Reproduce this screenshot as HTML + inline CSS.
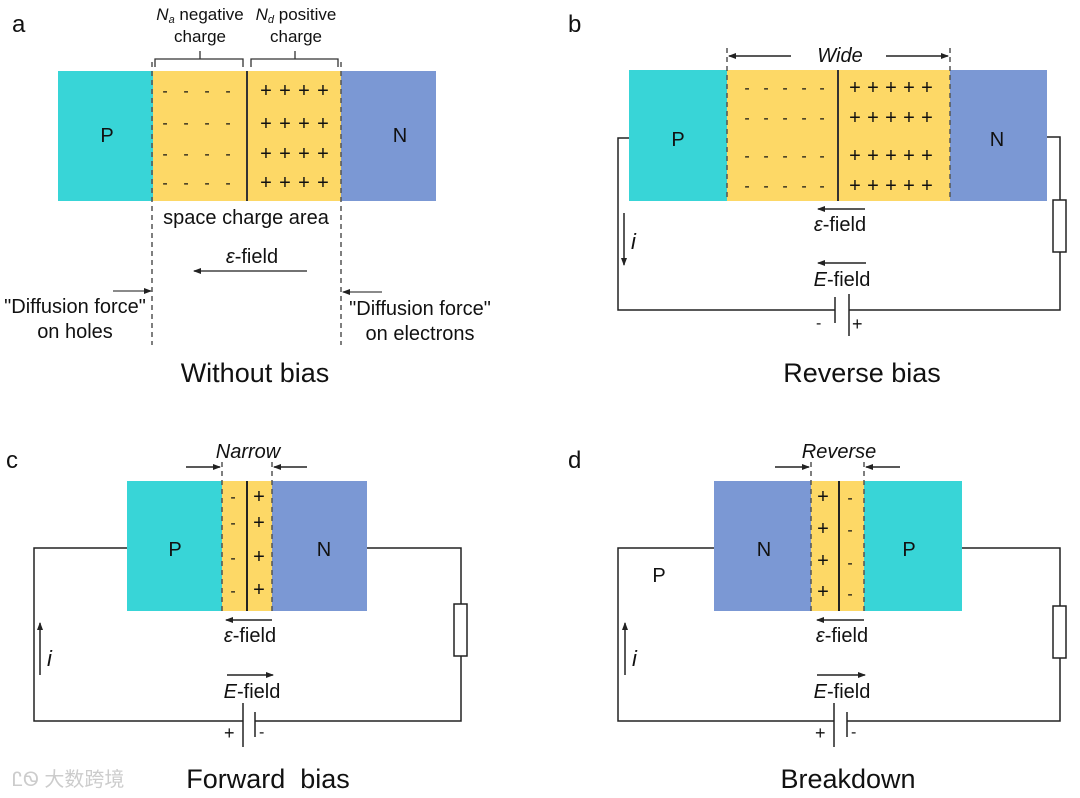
<!DOCTYPE html>
<html><head><meta charset="utf-8"><style>
html,body{margin:0;padding:0;background:#fff;}
svg{display:block;font-family:"Liberation Sans",Arial,sans-serif;}
</style></head><body>
<svg width="1080" height="798" viewBox="0 0 1080 798" xmlns="http://www.w3.org/2000/svg">
<defs>
<marker id="ah" markerWidth="8" markerHeight="8" refX="7" refY="4" orient="auto" markerUnits="userSpaceOnUse">
<path d="M0,1 L8,4 L0,7 Z" fill="#222"/></marker>
</defs>
<g fill="#111" font-size="20">
<!-- Panel a -->
<text x="12" y="32" font-size="24">a</text>
<rect x="58" y="71" width="95" height="130" fill="#38D5D7"/>
<rect x="153" y="71" width="188" height="130" fill="#FDD866"/>
<rect x="341" y="71" width="95" height="130" fill="#7B98D4"/>
<line x1="247" y1="71" x2="247" y2="201" stroke="#333" stroke-width="2"/>
<g stroke="#555" stroke-width="1.5" stroke-dasharray="5,4"><line x1="152" y1="62" x2="152" y2="345"/><line x1="341" y1="62" x2="341" y2="345"/></g>
<path d="M155,67 v-8 h45 v-8 M200,59 h43 v8" fill="none" stroke="#333" stroke-width="1.3"/>
<path d="M251,67 v-8 h44 v-8 M295,59 h43 v8" fill="none" stroke="#333" stroke-width="1.3"/>
<text x="200" y="20" text-anchor="middle" font-size="17"><tspan font-style="italic">N</tspan><tspan font-size="11" font-style="italic" dy="3">a</tspan><tspan dy="-3"> negative</tspan></text>
<text x="200" y="42" text-anchor="middle" font-size="17">charge</text>
<text x="296" y="20" text-anchor="middle" font-size="17"><tspan font-style="italic">N</tspan><tspan font-size="11" font-style="italic" dy="3">d</tspan><tspan dy="-3"> positive</tspan></text>
<text x="296" y="42" text-anchor="middle" font-size="17">charge</text>
<g font-size="16" text-anchor="middle">
<text x="165" y="96">-</text><text x="186" y="96">-</text><text x="207" y="96">-</text><text x="228" y="96">-</text>
<text x="165" y="128">-</text><text x="186" y="128">-</text><text x="207" y="128">-</text><text x="228" y="128">-</text>
<text x="165" y="159">-</text><text x="186" y="159">-</text><text x="207" y="159">-</text><text x="228" y="159">-</text>
<text x="165" y="188">-</text><text x="186" y="188">-</text><text x="207" y="188">-</text><text x="228" y="188">-</text>
</g>
<g font-size="20" text-anchor="middle">
<text x="266" y="97">+</text><text x="285" y="97">+</text><text x="304" y="97">+</text><text x="323" y="97">+</text>
<text x="266" y="130">+</text><text x="285" y="130">+</text><text x="304" y="130">+</text><text x="323" y="130">+</text>
<text x="266" y="160">+</text><text x="285" y="160">+</text><text x="304" y="160">+</text><text x="323" y="160">+</text>
<text x="266" y="189">+</text><text x="285" y="189">+</text><text x="304" y="189">+</text><text x="323" y="189">+</text>
</g>
<text x="107" y="142" text-anchor="middle">P</text>
<text x="400" y="142" text-anchor="middle">N</text>
<text x="246" y="224" text-anchor="middle">space charge area</text>
<text x="252" y="263" text-anchor="middle"><tspan font-style="italic">ε</tspan>-field</text>
<line x1="307" y1="271" x2="194" y2="271" stroke="#444" stroke-width="1.5" marker-end="url(#ah)"/>
<line x1="113" y1="291" x2="151" y2="291" stroke="#444" stroke-width="1.3" marker-end="url(#ah)"/>
<line x1="382" y1="292" x2="343" y2="292" stroke="#444" stroke-width="1.3" marker-end="url(#ah)"/>
<text x="75" y="313" text-anchor="middle">"Diffusion force"</text>
<text x="75" y="338" text-anchor="middle">on holes</text>
<text x="420" y="315" text-anchor="middle">"Diffusion force"</text>
<text x="420" y="340" text-anchor="middle">on electrons</text>
<text x="255" y="382" text-anchor="middle" font-size="27">Without bias</text>

<!-- Panel b -->
<text x="568" y="32" font-size="24">b</text>
<rect x="629" y="70" width="98" height="131" fill="#38D5D7"/>
<rect x="727" y="70" width="223" height="131" fill="#FDD866"/>
<rect x="950" y="70" width="97" height="131" fill="#7B98D4"/>
<line x1="838" y1="70" x2="838" y2="201" stroke="#333" stroke-width="2"/>
<g stroke="#555" stroke-width="1.5" stroke-dasharray="5,4"><line x1="727" y1="48" x2="727" y2="201"/><line x1="950" y1="48" x2="950" y2="201"/></g>
<line x1="791" y1="56" x2="729" y2="56" stroke="#222" stroke-width="1.6" marker-end="url(#ah)"/>
<line x1="886" y1="56" x2="948" y2="56" stroke="#222" stroke-width="1.6" marker-end="url(#ah)"/>
<text x="840" y="62" text-anchor="middle" font-style="italic">Wide</text>
<g font-size="16" text-anchor="middle">
<text x="747" y="93">-</text><text x="766" y="93">-</text><text x="785" y="93">-</text><text x="804" y="93">-</text><text x="822" y="93">-</text>
<text x="747" y="123">-</text><text x="766" y="123">-</text><text x="785" y="123">-</text><text x="804" y="123">-</text><text x="822" y="123">-</text>
<text x="747" y="161">-</text><text x="766" y="161">-</text><text x="785" y="161">-</text><text x="804" y="161">-</text><text x="822" y="161">-</text>
<text x="747" y="191">-</text><text x="766" y="191">-</text><text x="785" y="191">-</text><text x="804" y="191">-</text><text x="822" y="191">-</text>
</g>
<g font-size="20" text-anchor="middle">
<text x="855" y="94">+</text><text x="873" y="94">+</text><text x="891" y="94">+</text><text x="909" y="94">+</text><text x="927" y="94">+</text>
<text x="855" y="124">+</text><text x="873" y="124">+</text><text x="891" y="124">+</text><text x="909" y="124">+</text><text x="927" y="124">+</text>
<text x="855" y="162">+</text><text x="873" y="162">+</text><text x="891" y="162">+</text><text x="909" y="162">+</text><text x="927" y="162">+</text>
<text x="855" y="192">+</text><text x="873" y="192">+</text><text x="891" y="192">+</text><text x="909" y="192">+</text><text x="927" y="192">+</text>
</g>
<text x="678" y="146" text-anchor="middle">P</text>
<text x="997" y="146" text-anchor="middle">N</text>
<g fill="none" stroke="#222" stroke-width="1.5">
<path d="M629,138 H618 V310 H835"/>
<path d="M849,310 H1060 V252 M1060,200 V137 H1047"/>
<rect x="1053" y="200" width="13" height="52" fill="#fff"/>
<line x1="835" y1="297" x2="835" y2="323"/>
<line x1="849" y1="294" x2="849" y2="336"/>
</g>
<line x1="865" y1="209" x2="818" y2="209" stroke="#222" stroke-width="1.5" marker-end="url(#ah)"/>
<text x="840" y="231" text-anchor="middle"><tspan font-style="italic">ε</tspan>-field</text>
<line x1="866" y1="263" x2="818" y2="263" stroke="#222" stroke-width="1.5" marker-end="url(#ah)"/>
<text x="842" y="286" text-anchor="middle"><tspan font-style="italic">E</tspan>-field</text>
<line x1="624" y1="213" x2="624" y2="265" stroke="#222" stroke-width="1.5" marker-end="url(#ah)"/>
<text x="631" y="249" font-style="italic" font-size="22">i</text>
<text x="816" y="328" font-size="16">-</text>
<text x="852" y="330" font-size="18">+</text>
<text x="862" y="382" text-anchor="middle" font-size="27">Reverse bias</text>

<!-- Panel c -->
<text x="6" y="468" font-size="24">c</text>
<rect x="127" y="481" width="95" height="130" fill="#38D5D7"/>
<rect x="222" y="481" width="50" height="130" fill="#FDD866"/>
<rect x="272" y="481" width="95" height="130" fill="#7B98D4"/>
<line x1="247" y1="481" x2="247" y2="611" stroke="#222" stroke-width="2"/>
<g stroke="#555" stroke-width="1.5" stroke-dasharray="5,4"><line x1="222" y1="462" x2="222" y2="611"/><line x1="272" y1="462" x2="272" y2="611"/></g>
<line x1="186" y1="467" x2="220" y2="467" stroke="#222" stroke-width="1.6" marker-end="url(#ah)"/>
<line x1="307" y1="467" x2="274" y2="467" stroke="#222" stroke-width="1.6" marker-end="url(#ah)"/>
<text x="248" y="458" text-anchor="middle" font-style="italic">Narrow</text>
<g font-size="16" text-anchor="middle">
<text x="233" y="502">-</text><text x="233" y="528">-</text><text x="233" y="563">-</text><text x="233" y="596">-</text>
</g>
<g font-size="20" text-anchor="middle">
<text x="259" y="503">+</text><text x="259" y="529">+</text><text x="259" y="563">+</text><text x="259" y="596">+</text>
</g>
<text x="175" y="556" text-anchor="middle">P</text>
<text x="324" y="556" text-anchor="middle">N</text>
<g fill="none" stroke="#222" stroke-width="1.5">
<path d="M127,548 H34 V721 H243"/>
<path d="M255,721 H461 V656 M461,604 V548 H367"/>
<rect x="454" y="604" width="13" height="52" fill="#fff"/>
<line x1="243" y1="703" x2="243" y2="747"/>
<line x1="255" y1="712" x2="255" y2="737"/>
</g>
<line x1="272" y1="620" x2="226" y2="620" stroke="#222" stroke-width="1.5" marker-end="url(#ah)"/>
<text x="250" y="642" text-anchor="middle"><tspan font-style="italic">ε</tspan>-field</text>
<line x1="227" y1="675" x2="273" y2="675" stroke="#222" stroke-width="1.5" marker-end="url(#ah)"/>
<text x="252" y="698" text-anchor="middle"><tspan font-style="italic">E</tspan>-field</text>
<line x1="40" y1="675" x2="40" y2="623" stroke="#222" stroke-width="1.5" marker-end="url(#ah)"/>
<text x="47" y="666" font-style="italic" font-size="22">i</text>
<text x="224" y="739" font-size="18">+</text>
<text x="259" y="737" font-size="16">-</text>
<text x="268" y="788" text-anchor="middle" font-size="27">Forward&#160; bias</text>
<text x="12" y="786" font-size="20" fill="#ccc" font-family="'Liberation Sans','Noto Sans CJK SC',sans-serif">ᏝᏫ 大数跨境</text>

<!-- Panel d -->
<text x="568" y="468" font-size="24">d</text>
<rect x="714" y="481" width="97" height="130" fill="#7B98D4"/>
<rect x="811" y="481" width="53" height="130" fill="#FDD866"/>
<rect x="864" y="481" width="98" height="130" fill="#38D5D7"/>
<line x1="839" y1="481" x2="839" y2="611" stroke="#222" stroke-width="2"/>
<g stroke="#555" stroke-width="1.5" stroke-dasharray="5,4"><line x1="811" y1="462" x2="811" y2="611"/><line x1="864" y1="462" x2="864" y2="611"/></g>
<line x1="775" y1="467" x2="809" y2="467" stroke="#222" stroke-width="1.6" marker-end="url(#ah)"/>
<line x1="900" y1="467" x2="866" y2="467" stroke="#222" stroke-width="1.6" marker-end="url(#ah)"/>
<text x="839" y="458" text-anchor="middle" font-style="italic">Reverse</text>
<g font-size="20" text-anchor="middle">
<text x="823" y="503">+</text><text x="823" y="535">+</text><text x="823" y="567">+</text><text x="823" y="598">+</text>
</g>
<g font-size="16" text-anchor="middle">
<text x="850" y="503">-</text><text x="850" y="535">-</text><text x="850" y="568">-</text><text x="850" y="599">-</text>
</g>
<text x="764" y="556" text-anchor="middle">N</text>
<text x="909" y="556" text-anchor="middle">P</text>
<text x="659" y="582" text-anchor="middle">P</text>
<g fill="none" stroke="#222" stroke-width="1.5">
<path d="M714,548 H618 V721 H834"/>
<path d="M847,721 H1060 V658 M1060,606 V548 H962"/>
<rect x="1053" y="606" width="13" height="52" fill="#fff"/>
<line x1="834" y1="703" x2="834" y2="747"/>
<line x1="847" y1="712" x2="847" y2="737"/>
</g>
<line x1="864" y1="620" x2="817" y2="620" stroke="#222" stroke-width="1.5" marker-end="url(#ah)"/>
<text x="842" y="642" text-anchor="middle"><tspan font-style="italic">ε</tspan>-field</text>
<line x1="817" y1="675" x2="865" y2="675" stroke="#222" stroke-width="1.5" marker-end="url(#ah)"/>
<text x="842" y="698" text-anchor="middle"><tspan font-style="italic">E</tspan>-field</text>
<line x1="625" y1="675" x2="625" y2="623" stroke="#222" stroke-width="1.5" marker-end="url(#ah)"/>
<text x="632" y="666" font-style="italic" font-size="22">i</text>
<text x="815" y="739" font-size="18">+</text>
<text x="851" y="737" font-size="16">-</text>
<text x="848" y="788" text-anchor="middle" font-size="27">Breakdown</text>
</g>
</svg>
</body></html>
